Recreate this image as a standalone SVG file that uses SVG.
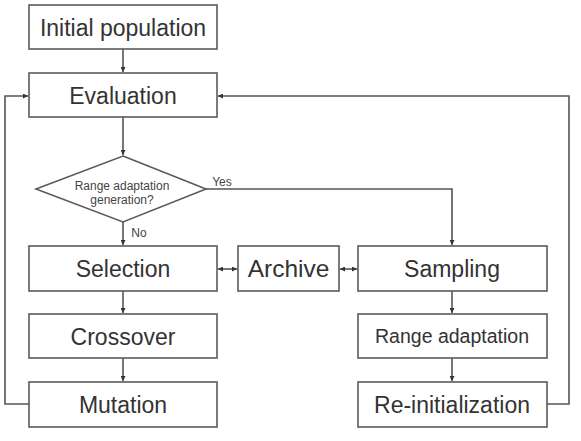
<svg xmlns="http://www.w3.org/2000/svg" width="581" height="441" viewBox="0 0 581 441">
<style>
.box{fill:#fff;stroke:#5a5a5a;stroke-width:1.6}
.t{font-family:"Liberation Sans",Arial,sans-serif;fill:#333;text-anchor:middle}
.big{font-size:23px}
.mid{font-size:19.5px}
.sm{font-size:12px;fill:#444}
.ln{fill:none;stroke:#555;stroke-width:1.6}
</style>
<defs>
<marker id="a" viewBox="0 0 10 10" refX="10" refY="5" markerWidth="5" markerHeight="5" orient="auto-start-reverse" markerUnits="userSpaceOnUse">
<path d="M0,0L10,5L0,10z" fill="#333"/>
</marker>
</defs>
<rect width="581" height="441" fill="#fff"/>
<g id="connectors">
<line class="ln" x1="123" y1="49" x2="123" y2="72" marker-end="url(#a)"/>
<line class="ln" x1="123" y1="117" x2="123" y2="155" marker-end="url(#a)"/>
<line class="ln" x1="123" y1="222" x2="123" y2="245" marker-end="url(#a)"/>
<line class="ln" x1="123" y1="291" x2="123" y2="313" marker-end="url(#a)"/>
<line class="ln" x1="123" y1="358" x2="123" y2="381" marker-end="url(#a)"/>
<polyline class="ln" points="29,404 5,404 5,96 28,96" marker-end="url(#a)"/>
<polyline class="ln" points="206,189 452,189 452,245" marker-end="url(#a)"/>
<line class="ln" x1="452" y1="291" x2="452" y2="313" marker-end="url(#a)"/>
<line class="ln" x1="452" y1="358" x2="452" y2="381" marker-end="url(#a)"/>
<polyline class="ln" points="547,404 569,404 569,96 218,96" marker-end="url(#a)"/>
<line class="ln" x1="218" y1="269" x2="237" y2="269" marker-start="url(#a)" marker-end="url(#a)"/>
<line class="ln" x1="340" y1="269" x2="357" y2="269" marker-start="url(#a)" marker-end="url(#a)"/>
<text class="t sm" x="222" y="186">Yes</text>
<text class="t sm" x="139" y="237">No</text>
</g>
<g id="initial"><rect class="box" x="29" y="5" width="188" height="44"/><text class="t big" x="123" y="35.5">Initial population</text></g>
<g id="evaluation"><rect class="box" x="29" y="73" width="188" height="44"/><text class="t big" x="123" y="103.5">Evaluation</text></g>
<g id="decision"><polygon class="box" points="123,156 206,189 123,222 36,189"/><text class="t sm" x="122" y="190">Range adaptation</text><text class="t sm" x="122" y="204">generation?</text></g>
<g id="selection"><rect class="box" x="29" y="246" width="188" height="45"/><text class="t big" x="123" y="277">Selection</text></g>
<g id="crossover"><rect class="box" x="29" y="314" width="188" height="44"/><text class="t big" x="123" y="344.5">Crossover</text></g>
<g id="mutation"><rect class="box" x="29" y="382" width="188" height="45"/><text class="t big" x="123" y="413">Mutation</text></g>
<g id="archive"><rect class="box" x="238" y="246" width="101" height="45"/><text class="t big" x="288.5" y="277" style="font-size:24.5px">Archive</text></g>
<g id="sampling"><rect class="box" x="358" y="246" width="189" height="45"/><text class="t big" x="452" y="277">Sampling</text></g>
<g id="rangeadapt"><rect class="box" x="358" y="314" width="189" height="44"/><text class="t mid" x="452" y="343">Range adaptation</text></g>
<g id="reinit"><rect class="box" x="358" y="382" width="189" height="45"/><text class="t big" x="452" y="413">Re-initialization</text></g>
</svg>
